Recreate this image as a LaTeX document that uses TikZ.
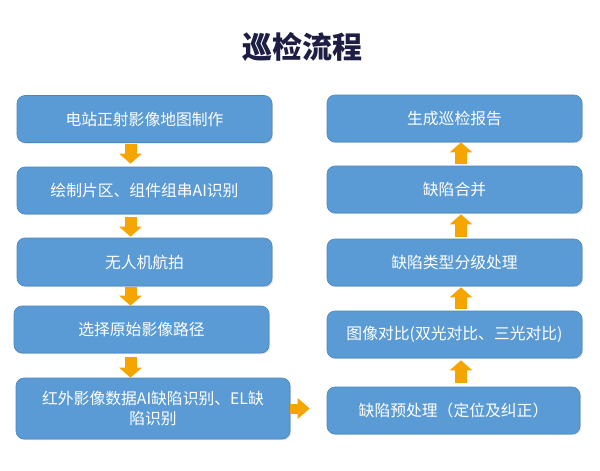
\documentclass[tikz,border=0pt]{standalone}
\usepackage{fontspec}
\setmainfont{Noto Sans CJK SC}
\usetikzlibrary{arrows.meta,shadows}

\definecolor{boxblue}{HTML}{5B9BD5}
\definecolor{boxedge}{HTML}{4A86C0}
\definecolor{arrorange}{HTML}{F5A400}
\definecolor{titlenavy}{HTML}{1E1E44}

\begin{document}
\begin{tikzpicture}[x=1pt, y=-1pt,
    % Styles
    stage/.style={
        draw=boxedge, line width=0.6pt, rounded corners=8pt,
        fill=boxblue, minimum width=#1, minimum height=47pt,
        font=\fontsize{15.8}{20}\selectfont, text=white, align=center,
        drop shadow={shadow xshift=1pt, shadow yshift=-1.2pt, opacity=0.25, fill=black!50}
    },
    stage/.default=255pt,
    flow/.style={
        line width=12pt, draw=arrorange,
        -{Triangle[width=22pt, length=10pt]}
    }
]
\useasboundingbox (0,0) rectangle (600,471);

% =============================================
% TITLE
% =============================================
\node[font=\fontsize{30}{36}\selectfont\bfseries, text=titlenavy] (title) at (302,47) {巡检流程};

% =============================================
% LEFT COLUMN (downwards)
% =============================================
\node[stage] (l1) at (144.5,119) {电站正射影像地图制作};
\node[stage] (l2) at (144.5,190.5) {绘制片区、组件组串AI识别};
\node[stage, minimum height=48pt] (l3) at (144.5,262) {无人机航拍};
\node[stage] (l4) at (141.5,329.5) {选择原始影像路径};
\node[stage=274pt, minimum height=61pt] (l5) at (153,408.5) {红外影像数据AI缺陷识别、EL缺\\陷识别};

\coordinate (lx) at (130.5,0);
\draw[flow, shorten <=1pt, shorten >=3pt] (l1.south -| lx) -- (l2.north -| lx);
\draw[flow, shorten <=3pt, shorten >=1pt] (l2.south -| lx) -- (l3.north -| lx);
\draw[flow, shorten <=1pt, shorten >=0pt] (l3.south -| lx) -- (l4.north -| lx);
\draw[flow, shorten <=4pt, shorten >=0pt] (l4.south -| lx) -- (l5.north -| lx);

% =============================================
% RIGHT COLUMN (upwards)
% =============================================
\node[stage] (r1) at (454.5,118.5) {生成巡检报告};
\node[stage] (r2) at (454.5,189.5) {缺陷合并};
\node[stage] (r3) at (454.5,262.5) {缺陷类型分级处理};
\node[stage] (r4) at (454.5,334.5) {图像对比(双光对比、三光对比)};
\node[stage=253pt] (r5) at (453.5,410.5) {缺陷预处理（定位及纠正）};

\coordinate (rx) at (461,0);
\draw[flow, shorten <=4pt, shorten >=2pt] (r5.north -| rx) -- (r4.south -| rx);
\draw[flow, shorten <=2pt, shorten >=1pt] (r4.north -| rx) -- (r3.south -| rx);
\draw[flow, shorten <=2pt, shorten >=1pt] (r3.north -| rx) -- (r2.south -| rx);
\draw[flow, shorten <=2pt, shorten >=0pt] (r2.north -| rx) -- (r1.south -| rx);

% =============================================
% CROSSOVER
% =============================================
\draw[flow, line width=10pt, -{Triangle[width=20pt, length=12pt]}, shorten >=17pt]
    (l5.east) -- (l5.east -| r5.west);

\end{tikzpicture}
\end{document}
